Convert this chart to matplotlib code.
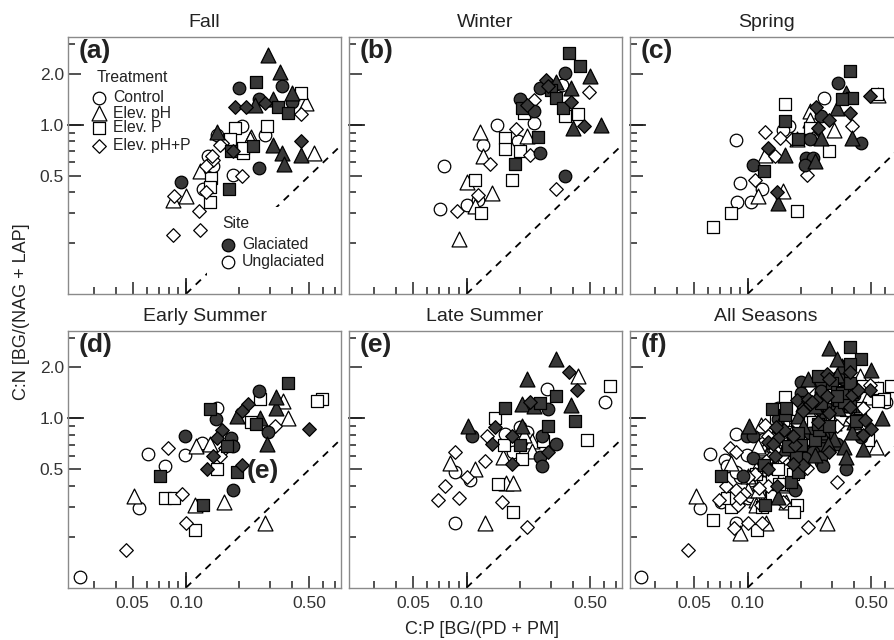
import matplotlib.pyplot as plt
from matplotlib.patches import Rectangle
from matplotlib.transforms import blended_transform_factory

plt.rcParams['font.family'] = ['Liberation Sans', 'DejaVu Sans']

# C:P (x) and C:N (y) enzyme ratios per season, treatment code and site code
# treatment: C = Control, H = Elev. pH, P = Elev. P, HP = Elev. pH+P
# site: G = Glaciated (filled), U = Unglaciated (open)
fall_cp = [0.29, 0.34, 0.20, 0.25, 0.35, 0.26, 0.19, 0.22, 0.245, 0.31, 0.28, 0.33, 0.40, 0.40,
           0.38, 0.45, 0.31, 0.35, 0.36, 0.45, 0.26, 0.175, 0.094, 0.185, 0.24, 0.15, 0.18,
           0.45, 0.48, 0.45, 0.53, 0.286, 0.28, 0.19, 0.207, 0.235, 0.21, 0.178, 0.16, 0.15, 0.143,
           0.134, 0.143, 0.12, 0.13, 0.138, 0.137, 0.125, 0.13, 0.137, 0.119, 0.12, 0.084, 0.085,
           0.10, 0.086, 0.185, 0.207, 0.23, 0.155, 0.14, 0.21]
fall_cn = [2.60, 2.05, 1.65, 1.78, 1.70, 1.42, 1.28, 1.27, 1.30, 1.42, 1.35, 1.28, 1.37, 1.55,
           1.18, 0.80, 0.76, 0.68, 0.59, 0.66, 0.555, 0.42, 0.46, 0.70, 0.75, 0.91, 0.70,
           1.55, 1.34, 1.15, 0.68, 0.98, 0.87, 0.96, 0.98, 0.85, 0.68, 0.82, 0.78, 0.87, 0.62,
           0.65, 0.57, 0.53, 0.57, 0.485, 0.43, 0.42, 0.40, 0.35, 0.31, 0.24, 0.224, 0.36,
           0.38, 0.38, 0.505, 0.495, 0.82, 0.76, 0.65, 0.73]
fall_trt = ["H", "H", "C", "P", "C", "C", "HP", "HP", "H", "H", "HP", "P", "C", "H",
            "P", "HP", "H", "H", "H", "H", "C", "P", "C", "HP", "P", "H", "P",
            "P", "H", "HP", "H", "P", "C", "P", "C", "H", "P", "P", "HP", "C", "HP",
            "C", "C", "H", "HP", "P", "P", "C", "HP", "P", "HP", "HP", "HP", "H",
            "H", "HP", "C", "HP", "H", "HP", "HP", "P"]
fall_site = ["G"] * 27 + ["U"] * 35

winter_cp = [0.38, 0.44, 0.50, 0.36, 0.28, 0.26, 0.32, 0.30, 0.39, 0.32, 0.39, 0.35, 0.20, 0.205,
             0.24, 0.40, 0.46, 0.58, 0.255, 0.26, 0.188, 0.36, 0.22, 0.29,
             0.49, 0.345, 0.24, 0.21, 0.36, 0.43, 0.24, 0.148, 0.119, 0.19, 0.165, 0.124, 0.22,
             0.195, 0.165, 0.20, 0.23, 0.124, 0.135, 0.074, 0.18, 0.32, 0.10, 0.111, 0.14,
             0.116, 0.10, 0.088, 0.071, 0.12, 0.111, 0.09, 0.116]
winter_cn = [2.65, 2.23, 1.93, 2.03, 1.84, 1.65, 1.80, 1.61, 1.65, 1.44, 1.37, 1.25, 1.42, 1.25,
             1.20, 0.955, 0.98, 1.00, 0.85, 0.68, 0.59, 0.50, 1.30, 1.70,
             1.57, 1.72, 1.40, 1.17, 1.12, 1.16, 1.02, 1.00, 0.91, 0.94, 0.83, 0.76, 0.86,
             0.80, 0.72, 0.70, 0.665, 0.65, 0.59, 0.57, 0.47, 0.42, 0.46, 0.47, 0.395,
             0.386, 0.337, 0.31, 0.32, 0.30, 0.33, 0.21, 0.36]
winter_trt = ["P", "P", "H", "C", "HP", "C", "H", "P", "H", "P", "HP", "P", "C", "P",
              "C", "H", "HP", "H", "P", "C", "P", "C", "HP", "HP",
              "HP", "C", "HP", "P", "P", "P", "C", "C", "H", "HP", "P", "C", "H",
              "C", "P", "P", "HP", "H", "HP", "C", "P", "HP", "H", "P", "H",
              "HP", "C", "HP", "C", "P", "H", "H", "C"]
winter_site = ["G"] * 24 + ["U"] * 33

spring_cp = [0.38, 0.325, 0.36, 0.39, 0.34, 0.49, 0.245, 0.32, 0.38, 0.26, 0.29, 0.25, 0.163,
             0.194, 0.26, 0.225, 0.39, 0.44, 0.215, 0.235, 0.24, 0.21, 0.131, 0.163, 0.107,
             0.124, 0.146, 0.149,
             0.55, 0.54, 0.27, 0.225, 0.163, 0.225, 0.31, 0.39, 0.235, 0.29, 0.225, 0.172,
             0.125, 0.152, 0.159, 0.178, 0.19, 0.143, 0.125, 0.216, 0.086, 0.090, 0.11, 0.12,
             0.087, 0.105, 0.115, 0.081, 0.064, 0.159, 0.19]
spring_cn = [2.09, 1.76, 1.54, 1.44, 1.42, 1.47, 1.28, 1.25, 1.17, 1.12, 1.07, 0.955, 1.05,
             0.82, 0.835, 0.82, 0.835, 0.78, 0.636, 0.636, 0.61, 0.58, 0.73, 0.665, 0.58,
             0.53, 0.40, 0.345,
             1.50, 1.52, 1.44, 1.20, 1.33, 1.07, 0.935, 0.98, 0.835, 0.70, 0.955, 0.98,
             0.91, 0.835, 0.935, 0.82, 0.82, 0.655, 0.665, 0.507, 0.81, 0.45, 0.47, 0.42,
             0.35, 0.35, 0.38, 0.30, 0.25, 0.405, 0.31]
spring_trt = ["P", "C", "H", "P", "P", "HP", "HP", "H", "HP", "C", "HP", "HP", "P",
              "P", "H", "C", "H", "C", "C", "C", "H", "C", "HP", "H", "C",
              "P", "HP", "H",
              "H", "P", "C", "H", "P", "H", "H", "HP", "HP", "P", "P", "C",
              "HP", "HP", "C", "HP", "H", "HP", "H", "HP", "C", "C", "HP", "C",
              "C", "C", "H", "P", "P", "H", "P"]
spring_site = ["G"] * 28 + ["U"] * 31

early_cp = [0.38, 0.26, 0.225, 0.207, 0.194, 0.325, 0.325, 0.262, 0.25, 0.29, 0.286, 0.50,
            0.137, 0.148, 0.16, 0.18, 0.149, 0.185, 0.17, 0.099, 0.131, 0.194, 0.207, 0.185,
            0.071, 0.125, 0.143,
            0.59, 0.55, 0.262, 0.355, 0.38, 0.32, 0.235, 0.149, 0.123, 0.114, 0.137, 0.166,
            0.156, 0.079, 0.061, 0.099, 0.076, 0.149, 0.076, 0.086, 0.095, 0.112, 0.164,
            0.051, 0.054, 0.10, 0.113, 0.28, 0.046, 0.025]
early_cn = [1.62, 1.46, 1.22, 1.11, 1.04, 1.16, 1.33, 1.01, 0.93, 0.83, 0.71, 0.865,
            1.13, 0.99, 0.85, 0.77, 0.77, 0.69, 0.69, 0.79, 0.50, 0.48, 0.53, 0.38,
            0.46, 0.31, 0.60,
            1.30, 1.27, 1.30, 1.27, 1.01, 0.905, 0.95, 1.15, 0.72, 0.69, 0.71, 0.67,
            0.60, 0.67, 0.62, 0.61, 0.525, 0.50, 0.34, 0.34, 0.36, 0.31, 0.32,
            0.35, 0.295, 0.24, 0.22, 0.24, 0.168, 0.115]
early_trt = ["P", "C", "HP", "HP", "H", "H", "H", "H", "P", "C", "H", "HP",
             "P", "C", "HP", "C", "HP", "C", "P", "C", "HP", "P", "HP", "C",
             "P", "P", "HP",
             "P", "P", "P", "H", "H", "HP", "P", "C", "C", "H", "H", "HP",
             "HP", "HP", "C", "C", "C", "P", "P", "P", "HP", "H", "H",
             "H", "C", "HP", "P", "H", "HP", "C"]
early_site = ["G"] * 27 + ["U"] * 30

late_cp = [0.32, 0.38, 0.42, 0.39, 0.41, 0.22, 0.32, 0.26, 0.29, 0.205, 0.24, 0.165, 0.102,
           0.107, 0.145, 0.139, 0.205, 0.29, 0.266, 0.32, 0.29, 0.26, 0.266, 0.20, 0.18, 0.18,
           0.23,
           0.43, 0.65, 0.61, 0.286, 0.48, 0.145, 0.165, 0.20, 0.22, 0.234, 0.27, 0.21, 0.163,
           0.184, 0.16, 0.205, 0.234, 0.13, 0.086, 0.081, 0.086, 0.127, 0.111, 0.10, 0.104,
           0.075, 0.069, 0.090, 0.086, 0.127, 0.15, 0.168, 0.184, 0.159, 0.184, 0.219]
late_cn = [2.24, 1.89, 1.47, 1.20, 0.97, 1.71, 1.36, 1.24, 1.14, 1.22, 1.19, 1.16, 0.905,
           0.79, 0.885, 0.71, 0.905, 0.905, 0.79, 0.71, 0.63, 0.59, 0.525, 0.70, 0.54, 0.79,
           1.25,
           1.79, 1.56, 1.25, 1.49, 0.75, 1.01, 0.81, 0.885, 0.835, 0.74, 0.74, 0.80, 0.70,
           0.635, 0.59, 0.575, 0.645, 0.79, 0.635, 0.545, 0.48, 0.56, 0.50, 0.45, 0.43,
           0.40, 0.33, 0.34, 0.24, 0.24, 0.41, 0.415, 0.415, 0.32, 0.28, 0.228]
late_trt = ["H", "HP", "HP", "H", "P", "H", "P", "P", "C", "H", "H", "P", "H",
            "C", "HP", "HP", "H", "P", "C", "C", "HP", "C", "C", "P", "HP", "HP",
            "HP",
            "H", "P", "C", "C", "P", "P", "C", "C", "C", "H", "P", "H", "P",
            "C", "H", "P", "H", "HP", "HP", "H", "C", "HP", "H", "HP", "C",
            "HP", "HP", "HP", "C", "H", "P", "H", "H", "HP", "P", "HP"]
late_site = ["G"] * 27 + ["U"] * 36

titles = ["Fall", "Winter", "Spring", "Early Summer", "Late Summer", "All Seasons"]
letters = ["(a)", "(b)", "(c)", "(d)", "(e)", "(f)"]
treatments = ["C", "H", "P", "HP"]
treatment_names = ["Control", "Elev. pH", "Elev. P", "Elev. pH+P"]
one_to_one = [0.1, 0.76]

season_data = [
    (fall_cp, fall_cn, fall_trt, fall_site),
    (winter_cp, winter_cn, winter_trt, winter_site),
    (spring_cp, spring_cn, spring_trt, spring_site),
    (early_cp, early_cn, early_trt, early_site),
    (late_cp, late_cn, late_trt, late_site),
]
all_data = tuple(sum((list(d[i]) for d in season_data), []) for i in range(4))
panel_data = season_data + [all_data]

markers = {"C": "o", "H": "^", "P": "s", "HP": "D"}
msize = {"C": 82, "H": 115, "P": 66, "HP": 48}
dark = "#383838"
frame = "#8a8a8a"


def draw_points(ax, cp, cn, trt, site):
    for s in ["U", "G"]:
        for t in treatments:
            xs = [x for x, tt, ss in zip(cp, trt, site) if tt == t and ss == s]
            ys = [y for y, tt, ss in zip(cn, trt, site) if tt == t and ss == s]
            ax.scatter(xs, ys, marker=markers[t], s=msize[t],
                       facecolor=dark if s == "G" else "white",
                       edgecolor="black", linewidths=0.9, zorder=4 if s == "G" else 3)


fig = plt.figure(figsize=(8.95, 6.4), dpi=100)
lefts = [0.076, 0.3896, 0.7036]
bottoms = [0.5406, 0.0817]
w, h = 0.305, 0.4016

for i in range(6):
    row, col = divmod(i, 3)
    ax = fig.add_axes([lefts[col], bottoms[row], w, h])
    ax.set_xscale("log")
    ax.set_yscale("log")
    ax.set_xlim(0.0215, 0.755)
    ax.set_ylim(0.1, 3.3)

    ax.xaxis.set_major_locator(plt.FixedLocator([0.05, 0.1, 0.5]))
    ax.xaxis.set_minor_locator(plt.FixedLocator([0.03, 0.04, 0.06, 0.07, 0.08, 0.09,
                                                 0.2, 0.3, 0.4, 0.6, 0.7]))
    ax.yaxis.set_major_locator(plt.FixedLocator([0.5, 1.0, 2.0]))
    ax.yaxis.set_minor_locator(plt.FixedLocator([0.2, 0.3, 0.4, 0.6, 0.7, 0.8, 0.9, 3.0]))
    ax.xaxis.set_minor_formatter(plt.NullFormatter())
    ax.yaxis.set_minor_formatter(plt.NullFormatter())
    if row == 1:
        ax.xaxis.set_major_formatter(plt.FixedFormatter(["0.05", "0.10", "0.50"]))
    else:
        ax.xaxis.set_major_formatter(plt.NullFormatter())
    if col == 0:
        ax.yaxis.set_major_formatter(plt.FixedFormatter(["0.5", "1.0", "2.0"]))
    else:
        ax.yaxis.set_major_formatter(plt.NullFormatter())

    ax.tick_params(which="both", direction="in", color="#222222", width=1.1,
                   labelsize=12.5, labelcolor="#333333")
    ax.tick_params(which="major", length=9)
    ax.tick_params(which="minor", length=5)
    ax.tick_params(axis="x", pad=6)
    ax.tick_params(axis="y", pad=3)
    for sp in ax.spines.values():
        sp.set_color(frame)
        sp.set_linewidth(1.0)

    # longer decade ticks at 0.10 and 1.0
    tx = blended_transform_factory(ax.transData, ax.transAxes)
    ty = blended_transform_factory(ax.transAxes, ax.transData)
    ax.plot([0.1, 0.1], [0, 0.058], transform=tx, color="#222222", lw=1.3, clip_on=False)
    ax.plot([0, 0.055], [1.0, 1.0], transform=ty, color="#222222", lw=1.3, clip_on=False)

    ax.plot(one_to_one, one_to_one, color="black", lw=1.3, ls=(0, (4, 3.5)), zorder=2)

    draw_points(ax, *panel_data[i])

    ax.set_title(titles[i], fontsize=14, pad=7, color="#222222")
    ax.text(0.04, 0.945, letters[i], transform=ax.transAxes, fontsize=19,
            fontweight="bold", va="center", ha="left", color="#222222", zorder=6)

    if i == 0:
        ax.text(0.103, 0.844, "Treatment", transform=ax.transAxes, fontsize=11.3,
                va="center", ha="left", color="#222222")
        for t, name, yy in zip(treatments, treatment_names, [0.763, 0.704, 0.646, 0.576]):
            ax.scatter([0.1136], [yy], transform=ax.transAxes, marker=markers[t],
                       s=msize[t], facecolor="white", edgecolor="black",
                       linewidths=0.9, zorder=6, clip_on=False)
            ax.text(0.165, yy, name, transform=ax.transAxes, fontsize=11.3,
                    va="center", ha="left", color="#222222")
        ax.add_patch(Rectangle((0.51, 0.066), 0.45, 0.273, transform=ax.transAxes,
                               facecolor="white", edgecolor="none", zorder=2.5))
        ax.text(0.564, 0.276, "Site", transform=ax.transAxes, fontsize=11.3,
                va="center", ha="left", color="#222222", zorder=6)
        for fc, name, yy in zip([dark, "white"], ["Glaciated", "Unglaciated"], [0.191, 0.126]):
            ax.scatter([0.587], [yy], transform=ax.transAxes, marker="o", s=msize["C"],
                       facecolor=fc, edgecolor="black", linewidths=0.9, zorder=6)
            ax.text(0.637, yy, name, transform=ax.transAxes, fontsize=11.3,
                    va="center", ha="left", color="#222222", zorder=6)
    if i == 3:
        ax.text(0.655, 0.454, "(e)", transform=ax.transAxes, fontsize=19,
                fontweight="bold", va="center", ha="left", color="#222222", zorder=6)

fig.text(22 / 895, 0.5125, "C:N [BG/(NAG + LAP]", rotation=90, fontsize=13,
         va="center", ha="center", color="#222222")
fig.text(0.539, 0.016, "C:P [BG/(PD + PM]", fontsize=13, va="center", ha="center",
         color="#222222")

fig.savefig("out.png", dpi=100)
